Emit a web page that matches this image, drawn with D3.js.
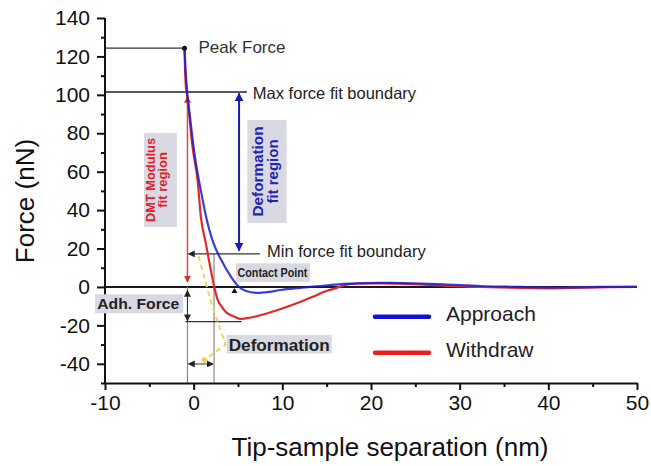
<!DOCTYPE html>
<html><head><meta charset="utf-8">
<script src="https://cdn.jsdelivr.net/npm/d3@7"></script>
<style>body{margin:0;background:#fff} svg{display:block}</style>
</head><body>
<svg id="c" width="651" height="466"></svg>
<script>
// ---------- data ----------
const xTickValues = [-10, 0, 10, 20, 30, 40, 50];
const xMinorTicks = [-5, 5, 15, 25, 35, 45];
const yTickValues = [-40, -20, 0, 20, 40, 60, 80, 100, 120, 140];
const yMinorTicks = [-50, -30, -10, 10, 30, 50, 70, 90, 110, 130];
const seriesNames = ["Approach", "Withdraw"];

const approachX = [-1.03, -0.9, -0.7, -0.4, -0.1, 0.25, 0.8, 1.4, 2.1, 3.1, 4.2, 5.1, 5.9, 7.2, 8.5, 9.8, 12.0, 14.3, 16.6, 18.8, 21.1, 23.5, 25.6, 28.0, 30.1, 32.3, 34.5, 36.8, 39.0, 41.3, 43.5, 45.8, 48.0, 50.0];
const approachY = [124.3, 112, 100, 88, 76, 64.5, 50.5, 36.6, 24.5, 14.1, 5.4, 0.1, -2.1, -3.1, -2.6, -1.6, -0.5, 0.5, 1.5, 1.9, 2.1, 2.0, 1.8, 1.4, 1.0, 0.5, 0.2, 0, -0.2, -0.3, -0.2, 0, 0, 0];

const withdrawX = [-1.03, -1.0, -0.88, -0.66, -0.4, -0.13, 0.44, 0.81, 1.37, 1.93, 2.31, 2.72, 3.2, 3.62, 4.41, 5.31, 6.44, 8.32, 9.81, 12.06, 13.5, 14.65, 15.78, 17.35, 18.8, 21.1, 23.3, 25.6, 28.95, 32.3, 36.8, 40.2, 43.6, 46.96, 50.0];
const withdrawY = [124.3, 118, 104.3, 97.3, 85, 73, 55.7, 36.6, 22.7, 8.9, 0.2, -6.8, -10.5, -13.0, -15.1, -16.7, -15.9, -13.7, -11.5, -7.7, -5.0, -2.6, -1.0, 1.3, 1.8, 1.9, 1.7, 1.3, 0.5, 0, -0.5, -0.7, -0.4, -0.1, 0];

// annotation values (nm, nN)
const peakSep = -1.03, peakForce = 124.3;
const maxFitForce = 101.5, minFitForce = 17.2;
const adhesionForce = -18.1;
const zeroSep = -0.7, deformSep = 2.3, contactSep = 4.6;
const deformArrowForce = -40.1;
const blueArrowSep = 5.12, blueArrowForces = [100.8, 18.9];
const redArrowForces = [99.1, 2.6];
const yellowFitX = [0.55, 2.1, 3.6, 1.2];
const yellowFitY = [16, -10, -30, -38];

// ---------- drawing ----------
const svg = d3.select("#c");
const font = "'Liberation Sans', Arial, sans-serif";
const x = d3.scaleLinear().domain([-10, 50]).range([105, 637]);
const y = d3.scaleLinear().domain([-50, 140]).range([383, 18]);
const fmt = d => String(d);

const defs = svg.append("defs");
function marker(id, color, size) {
  defs.append("marker").attr("id", id).attr("viewBox", "0 0 10 10")
    .attr("refX", 9).attr("refY", 5).attr("markerWidth", size).attr("markerHeight", size)
    .attr("markerUnits", "userSpaceOnUse").attr("orient", "auto-start-reverse")
    .append("path").attr("d", "M0,0 L10,5 L0,10 z").attr("fill", color);
}
marker("mk", "#222", 7);
marker("mb", "#1a1ab4", 9);
marker("mr", "#e02828", 7);

// zero line
svg.append("line").attr("x1", x(-10)).attr("x2", x(50)).attr("y1", y(0)).attr("y2", y(0))
  .attr("stroke", "#1a1a1a").attr("stroke-width", 2);

// gray vertical guide lines
svg.append("line").attr("x1", x(zeroSep)).attr("x2", x(zeroSep)).attr("y1", y(0)).attr("y2", y(-50))
  .attr("stroke", "#8a8a8a").attr("stroke-width", 1.2);
svg.append("line").attr("x1", x(deformSep)).attr("x2", x(deformSep)).attr("y1", y(minFitForce)).attr("y2", y(-50))
  .attr("stroke", "#8a8a8a").attr("stroke-width", 1.2);

// peak force line
svg.append("line").attr("x1", x(-10)).attr("x2", x(peakSep)).attr("y1", y(peakForce)).attr("y2", y(peakForce))
  .attr("stroke", "#333").attr("stroke-width", 1.3);
// max force line
svg.append("line").attr("x1", x(-10)).attr("x2", x(6.0)).attr("y1", y(maxFitForce)).attr("y2", y(maxFitForce))
  .attr("stroke", "#222").attr("stroke-width", 1.5);
// min force line with left arrow
svg.append("line").attr("x1", x(7.48)).attr("x2", x(zeroSep) + 1).attr("y1", y(minFitForce)).attr("y2", y(minFitForce))
  .attr("stroke", "#333").attr("stroke-width", 1.3).attr("marker-end", "url(#mk)");

// adhesion line
svg.append("line").attr("x1", x(zeroSep) - 2).attr("x2", x(5.4)).attr("y1", y(adhesionForce)).attr("y2", y(adhesionForce))
  .attr("stroke", "#333").attr("stroke-width", 1.3);
// adhesion arrow
svg.append("line").attr("x1", x(zeroSep)).attr("x2", x(zeroSep)).attr("y1", y(-1.8)).attr("y2", y(adhesionForce) - 1)
  .attr("stroke", "#333").attr("stroke-width", 1).attr("marker-start", "url(#mk)").attr("marker-end", "url(#mk)");
// deformation arrow
svg.append("line").attr("x1", x(zeroSep) + 1).attr("x2", x(deformSep) - 1).attr("y1", y(deformArrowForce)).attr("y2", y(deformArrowForce))
  .attr("stroke", "#333").attr("stroke-width", 1).attr("marker-start", "url(#mk)").attr("marker-end", "url(#mk)");

// red DMT arrow
svg.append("line").attr("x1", x(zeroSep)).attr("x2", x(zeroSep)).attr("y1", y(redArrowForces[0])).attr("y2", y(redArrowForces[1]))
  .attr("stroke", "#e04848").attr("stroke-width", 1.5).attr("marker-start", "url(#mr)").attr("marker-end", "url(#mr)");
// blue deformation-fit arrow
svg.append("line").attr("x1", x(blueArrowSep)).attr("x2", x(blueArrowSep)).attr("y1", y(blueArrowForces[0])).attr("y2", y(blueArrowForces[1]))
  .attr("stroke", "#1a1ab4").attr("stroke-width", 2).attr("marker-start", "url(#mb)").attr("marker-end", "url(#mb)");

// yellow dashed fit line
const yl = yellowFitX.map((d, i) => [x(d), y(yellowFitY[i])]);
svg.append("path").attr("d", d3.line()(yl)).attr("fill", "none")
  .attr("stroke", "#efd35a").attr("stroke-width", 2).attr("stroke-dasharray", "5,4");
svg.append("circle").attr("cx", yl[3][0]).attr("cy", yl[3][1]).attr("r", 2.8).attr("fill", "#efd35a");

// curves
const line = d3.line().curve(d3.curveMonotoneX);
const appPts = approachX.map((d, i) => [x(d), y(approachY[i])]);
const witPts = withdrawX.map((d, i) => [x(d), y(withdrawY[i])]);
svg.append("path").attr("d", line(witPts)).attr("fill", "none").attr("stroke", "#e22a2a").attr("stroke-width", 2.2);
svg.append("path").attr("d", line(appPts)).attr("fill", "none").attr("stroke", "#1c1cd0").attr("stroke-width", 2.2)
  .attr("stroke-opacity", 0.85);

// peak dot
svg.append("circle").attr("cx", x(peakSep)).attr("cy", y(peakForce)).attr("r", 2.5).attr("fill", "#111");
// contact point triangle
const cpx = x(contactSep), cpy = y(0);
svg.append("path").attr("d", `M${cpx - 3},${cpy + 6} L${cpx},${cpy + 1} L${cpx + 3},${cpy + 6} Z`).attr("fill", "#111");

// axes
const gx = svg.append("g").attr("transform", `translate(0,${y(-50)})`)
  .call(d3.axisBottom(x).tickValues(xTickValues).tickFormat(fmt).tickSize(7).tickSizeOuter(0).tickPadding(5));
const gxm = svg.append("g").attr("transform", `translate(0,${y(-50)})`)
  .call(d3.axisBottom(x).tickValues(xMinorTicks).tickSize(4).tickSizeOuter(0).tickFormat(""));
gxm.select(".domain").remove();
const gy = svg.append("g").attr("transform", `translate(${x(-10)},0)`)
  .call(d3.axisLeft(y).tickValues(yTickValues).tickFormat(fmt).tickSize(8).tickSizeOuter(0).tickPadding(7));
const gym = svg.append("g").attr("transform", `translate(${x(-10)},0)`)
  .call(d3.axisLeft(y).tickValues(yMinorTicks).tickSize(4).tickSizeOuter(0).tickFormat(""));
gym.select(".domain").remove();
[gx, gxm, gy, gym].forEach(g => {
  g.selectAll("path.domain").attr("stroke", "#111").attr("stroke-width", 2);
  g.selectAll(".tick line").attr("stroke", "#111").attr("stroke-width", 2);
  g.selectAll(".tick text").attr("fill", "#111").style("font-family", font).style("font-size", "21px");
});
gy.select(".domain").attr("d", `M0,${y(140)}V${y(-50)}`);

// axis titles
svg.append("text").attr("x", 390).attr("y", 456).attr("text-anchor", "middle")
  .style("font-family", font).style("font-size", "26px").attr("fill", "#111").text("Tip-sample separation (nm)");
svg.append("text").attr("transform", "translate(34,201) rotate(-90)").attr("text-anchor", "middle")
  .style("font-family", font).style("font-size", "26px").attr("fill", "#111").text("Force (nN)");

// plain annotation texts
function txt(px, py, s, size, color, weight) {
  return svg.append("text").attr("x", px).attr("y", py).text(s)
    .style("font-family", font).style("font-size", size + "px").attr("fill", color)
    .style("font-weight", weight || "normal");
}
txt(x(peakSep) + 14, y(peakForce) + 4.5, "Peak Force", 17, "#333");
txt(x(6.0) + 6, y(maxFitForce) + 7, "Max force fit boundary", 16.5, "#222");
txt(x(7.48) + 7, y(minFitForce) + 3, "Min force fit boundary", 16.5, "#222");

// boxed labels
const boxFill = "#d9d9e1";
function boxLabel(bx, by, w, h, s, size, tx, ty, len) {
  svg.append("rect").attr("x", bx).attr("y", by).attr("width", w).attr("height", h).attr("fill", boxFill);
  const t = txt(bx + tx, by + ty, s, size, "#222", "bold");
  if (len) t.attr("textLength", len).attr("lengthAdjust", "spacingAndGlyphs");
}
boxLabel(x(4.77), y(12.3), 74, 18.5, "Contact Point", 12.5, 1.5, 13.5, 70);
boxLabel(x(-11.13), y(-3.83), 88, 19, "Adh. Force", 15, 2.3, 15, 82);
boxLabel(x(3.73), y(-25.0), 105, 18.5, "Deformation", 17, 2, 15.7, 101);

// rotated boxed labels
function rotBox(cxv, cyv, w, h, lines, size, color, offs, len) {
  const cx = x(cxv), cy = y(cyv);
  svg.append("rect").attr("x", cx - w / 2).attr("y", cy - h / 2).attr("width", w).attr("height", h).attr("fill", boxFill);
  lines.forEach((s, i) => {
    const t = svg.append("text").attr("transform", `translate(${cx + offs[i]},${cy}) rotate(-90)`)
      .attr("text-anchor", "middle").text(s)
      .style("font-family", font).style("font-size", size + "px").style("font-weight", "bold").attr("fill", color);
    if (len[i]) t.attr("textLength", len[i]).attr("lengthAdjust", "spacingAndGlyphs");
  });
}
rotBox(-3.74, 55.7, 33, 94, ["DMT Modulus", "fit region"], 13, "#e0202a", [-5.5, 6.5], [84, 0]);
rotBox(8.27, 60.1, 39.4, 103, ["Deformation", "fit region"], 15, "#2424b4", [-4, 11], [90, 0]);

// legend
const legend = [{ name: seriesNames[0], color: "#1010d8", y: 316.7 }, { name: seriesNames[1], color: "#e81e1e", y: 352.7 }];
legend.forEach(d => {
  svg.append("line").attr("x1", 375).attr("x2", 429).attr("y1", d.y).attr("y2", d.y)
    .attr("stroke", d.color).attr("stroke-width", 4.5).attr("stroke-linecap", "round");
  txt(446, d.y + 4, d.name, 21, "#222");
});
</script>
</body></html>
